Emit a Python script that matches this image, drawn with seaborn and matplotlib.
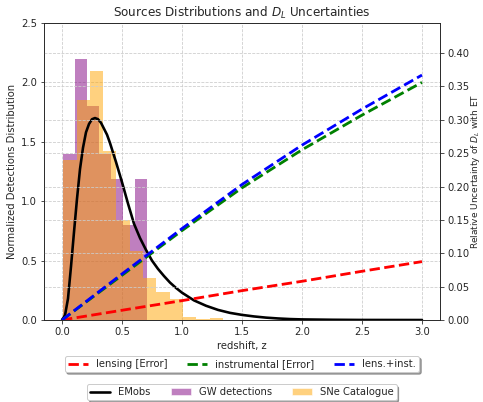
import matplotlib
matplotlib.use("Agg")
import matplotlib.pyplot as plt
from matplotlib.lines import Line2D
from matplotlib.patches import Patch
import seaborn as sns

sns.set_style("ticks")
plt.rcParams["font.family"] = ["DejaVu Sans"]

# Normalised GW detection histogram: bin edges and density per bin
gw_edges = [0.01, 0.11, 0.21, 0.31, 0.41, 0.51, 0.61, 0.71]
gw_density = [1.40, 2.20, 1.80, 1.40, 1.19, 0.80, 1.19]

# Normalised SNe catalogue histogram
sne_edges = [0.01, 0.121, 0.232, 0.343, 0.454, 0.565, 0.676,
             0.787, 0.898, 1.009, 1.12, 1.231, 1.342]
sne_density = [1.35, 1.85, 2.10, 1.42, 0.84, 0.58,
               0.356, 0.233, 0.177, 0.028, 0.010, 0.020]

# Observed EM source distribution
em_z = [0.0, 0.025, 0.05, 0.075, 0.10, 0.125, 0.15, 0.175, 0.20, 0.225,
        0.25, 0.275, 0.30, 0.325, 0.35, 0.375, 0.40, 0.45, 0.50, 0.55,
        0.60, 0.65, 0.70, 0.75, 0.80, 0.85, 0.90, 0.95, 1.00, 1.10,
        1.20, 1.30, 1.40, 1.50, 1.60, 1.70, 1.80, 1.90, 2.00, 2.25,
        2.50, 3.00]
em_pdf = [0.00, 0.04, 0.18, 0.45, 0.74, 1.02, 1.27, 1.45, 1.58, 1.65,
          1.69, 1.70, 1.69, 1.66, 1.61, 1.56, 1.49, 1.33, 1.16, 0.98,
          0.81, 0.69, 0.59, 0.50, 0.43, 0.37, 0.315, 0.27, 0.23, 0.165,
          0.12, 0.085, 0.06, 0.043, 0.03, 0.02, 0.013, 0.008, 0.005, 0.002,
          0.0005, 0.0]

# Relative uncertainty on the luminosity distance
err_z = [0.0, 0.5, 1.0, 1.5, 2.0, 2.5, 3.0]
err_lensing = [0.0, 0.0146, 0.029, 0.044, 0.058, 0.073, 0.0875]
err_instrumental = [0.0, 0.067, 0.134, 0.198, 0.255, 0.307, 0.356]
err_total = [0.0, 0.069, 0.137, 0.203, 0.262, 0.316, 0.367]

W, H, DPI = 483, 402, 72
fig, ax = plt.subplots(figsize=(W / DPI, H / DPI), dpi=DPI)
fig.subplots_adjust(left=44 / W, right=440 / W, top=1 - 23 / H, bottom=1 - 320 / H)


def centers(edges):
    return [(a + b) / 2 for a, b in zip(edges[:-1], edges[1:])]


sns.histplot(x=centers(gw_edges), weights=gw_density, bins=gw_edges,
             color="purple", alpha=0.5, linewidth=0, ax=ax)
sns.histplot(x=centers(sne_edges), weights=sne_density, bins=sne_edges,
             color="orange", alpha=0.5, linewidth=0, ax=ax)
sns.lineplot(x=em_z, y=em_pdf, color="black", linewidth=2.6, ax=ax, legend=False)

ax.set_xlim(-0.15, 3.15)
ax.set_ylim(0, 2.5)
ax.set_xticks([0.0, 0.5, 1.0, 1.5, 2.0, 2.5, 3.0])
ax.set_yticks([0.0, 0.5, 1.0, 1.5, 2.0, 2.5])
ax.set_xlabel("redshift, z")
ax.set_ylabel("Normalized Detections Distribution")
ax.set_title("Sources Distributions and $D_L$ Uncertainties")
ax.grid(True, linestyle="--", color="0.8", linewidth=0.8)

ax2 = ax.twinx()
for vals, col in [(err_lensing, "red"), (err_instrumental, "green"), (err_total, "blue")]:
    sns.lineplot(x=err_z, y=vals, color=col, linewidth=2.8, linestyle="--",
                 ax=ax2, legend=False)
ax2.set_ylim(0, 0.445)
ax2.set_yticks([0.0, 0.05, 0.10, 0.15, 0.20, 0.25, 0.30, 0.35, 0.40])
ax2.set_ylabel("Relative Uncertainty of $D_L$ with ET", labelpad=0, fontsize=9)
ax2.grid(True, linestyle="--", color="0.8", linewidth=0.8)
for a in (ax, ax2):
    for s in a.spines.values():
        s.set_visible(True)

err_handles = [
    Line2D([], [], color="red", linestyle="--", linewidth=2.8, label="lensing [Error]"),
    Line2D([], [], color="green", linestyle="--", linewidth=2.8, label="instrumental [Error]"),
    Line2D([], [], color="blue", linestyle="--", linewidth=2.8, label="lens.+inst."),
]
src_handles = [
    Line2D([], [], color="black", linewidth=2.6, label="EMobs"),
    Patch(facecolor="purple", alpha=0.5, label="GW detections"),
    Patch(facecolor="orange", alpha=0.5, label="SNe Catalogue"),
]
ax2.legend(handles=err_handles, loc="upper center", bbox_to_anchor=(0.5, -0.105),
           ncol=3, shadow=True, frameon=True, borderpad=0.3)
ax.legend(handles=src_handles, loc="upper center", bbox_to_anchor=(0.5, -0.2),
          ncol=3, shadow=True, frameon=True, borderpad=0.3)

fig.savefig("out.png", dpi=DPI)
